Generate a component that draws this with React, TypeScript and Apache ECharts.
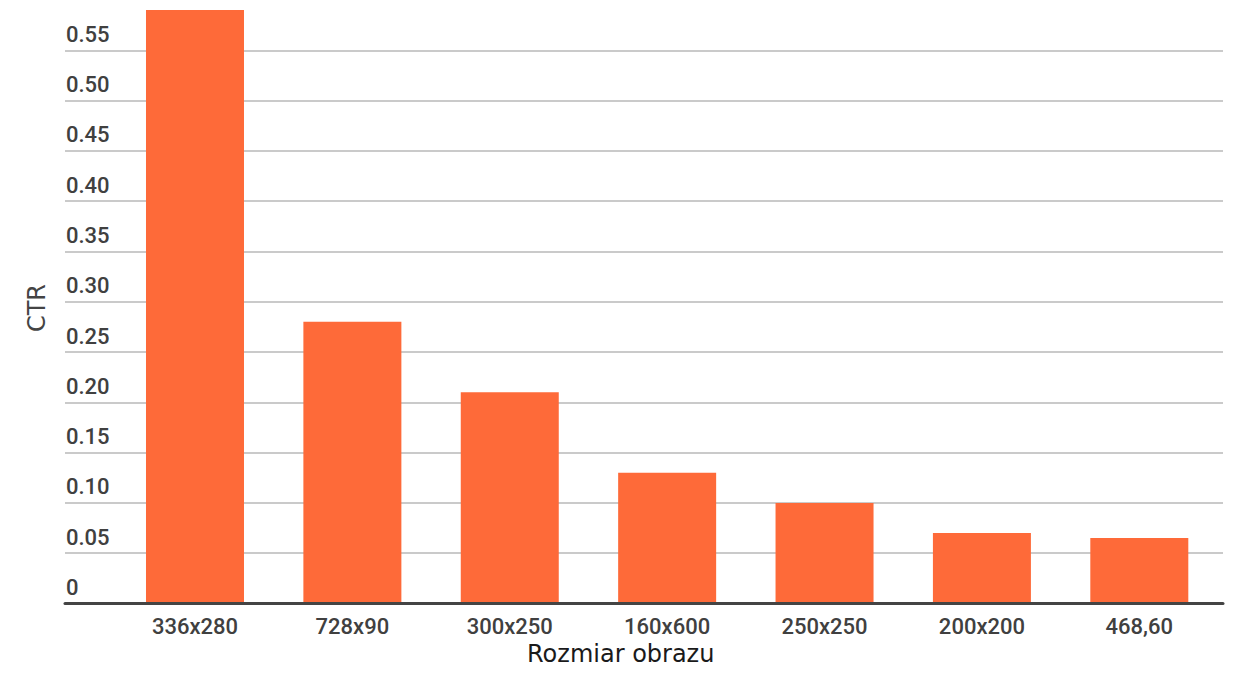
import React, { useEffect, useRef } from "react";
import * as echarts from "echarts";

const categories = ["336x280", "728x90", "300x250", "160x600", "250x250", "200x200", "468,60"];
const ctrValues = [0.59, 0.28, 0.21, 0.13, 0.1, 0.07, 0.065];
const xTitle = "Rozmiar obrazu";
const yTitle = "CTR";

export default function App() {
  const ref = useRef<HTMLDivElement>(null);
  useEffect(() => {
    if (!ref.current) return;
    const chart = echarts.init(ref.current, undefined, { renderer: "svg" });
    const yCommon = {
      type: "value",
      min: 0,
      max: 0.6,
      interval: 0.05,
    };
    chart.setOption({
      animation: false,
      backgroundColor: "#ffffff",
      grid: [
        { left: 65, right: 31, top: -1, bottom: 81.5 },
        { left: 116.3, right: 36, top: -1, bottom: 81.5 },
      ],
      xAxis: [
        {
          type: "value",
          gridIndex: 0,
          min: 0,
          max: 1,
          axisLine: { show: true, lineStyle: { color: "#444444", width: 3 } },
          axisTick: { show: false },
          axisLabel: { show: false },
          splitLine: { show: false },
          z: 5,
        },
        {
          type: "category",
          gridIndex: 1,
          data: categories,
          axisLine: { show: false },
          axisTick: { show: false },
          axisLabel: {
            color: "#404040",
            fontSize: 22,
            fontFamily: "Roboto",
            fontWeight: 500,
            margin: 12,
          },
        },
      ],
      yAxis: [
        {
          ...yCommon,
          gridIndex: 0,
          axisLine: { show: false },
          axisTick: { show: false },
          splitLine: {
            show: true,
            showMaxLine: false,
            lineStyle: { color: "#b9b9b9", width: 1.5 },
          },
          axisLabel: {
            inside: true,
            margin: 1,
            color: "#404040",
            fontSize: 22,
            fontFamily: "Roboto",
            fontWeight: 500,
            verticalAlign: "bottom",
            padding: [0, 0, 5, 0],
            formatter: (v: number) => (v === 0 ? "0" : v >= 0.599 ? "" : v.toFixed(2)),
          },
        },
        {
          ...yCommon,
          gridIndex: 1,
          show: false,
          splitLine: { show: false },
        },
      ],
      series: [
        {
          type: "bar",
          xAxisIndex: 1,
          yAxisIndex: 1,
          data: ctrValues,
          barWidth: 98,
          itemStyle: { color: "#FE6A39" },
          z: 3,
        },
      ],
      graphic: [
        {
          type: "text",
          left: 527,
          top: 642,
          style: {
            text: xTitle,
            fill: "#1a1a1a",
            fontSize: 24,
            fontFamily: "DejaVu Sans",
          },
        },
        {
          type: "text",
          x: 37,
          y: 308,
          rotation: Math.PI / 2,
          style: {
            text: yTitle,
            fill: "#444444",
            fontSize: 24,
            fontFamily: "DejaVu Sans",
            align: "center",
            verticalAlign: "middle",
          },
        },
      ],
    });
    return () => chart.dispose();
  }, []);
  return (
    <div
      ref={ref}
      style={{ position: "absolute", left: 0, top: 0, width: 1254, height: 685 }}
    />
  );
}
